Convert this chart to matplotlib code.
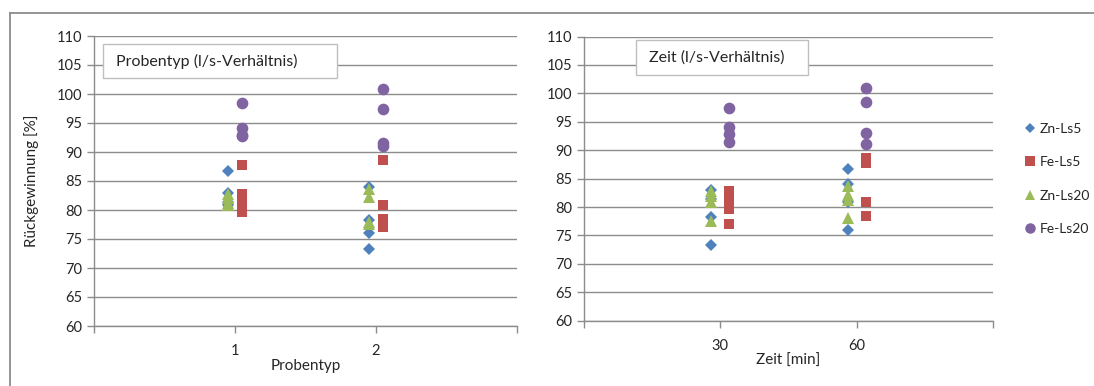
import matplotlib
matplotlib.use("Agg")
import matplotlib.pyplot as plt
from matplotlib.lines import Line2D
from matplotlib.patches import Rectangle

plt.rcParams['font.family'] = ['Lato', 'DejaVu Sans']

# Recovery values (%) per series, grouped by sample type (1, 2)
probentyp_groups = [1, 2]
zn_ls5_probentyp = [[86.7, 83.0, 81.4, 80.8], [84.0, 78.3, 76.0, 73.3]]
fe_ls5_probentyp = [[87.8, 82.8, 81.2, 79.6], [88.6, 80.9, 78.4, 77.0]]
zn_ls20_probentyp = [[82.8, 82.0, 81.2, 80.8], [83.7, 82.2, 78.0, 77.6]]
fe_ls20_probentyp = [[98.5, 94.1, 93.0, 92.8], [100.9, 97.5, 91.5, 91.0]]

# Recovery values (%) per series, grouped by time (30, 60 min)
zeit_groups = [30, 60]
zn_ls5_zeit = [[83.0, 81.4, 78.3, 73.3], [86.7, 84.0, 80.8, 76.0]]
fe_ls5_zeit = [[82.8, 81.2, 79.6, 77.0], [88.6, 87.8, 80.9, 78.4]]
zn_ls20_zeit = [[82.8, 82.0, 80.8, 77.6], [83.7, 82.2, 81.2, 78.0]]
fe_ls20_zeit = [[97.5, 94.1, 92.8, 91.5], [100.9, 98.5, 93.0, 91.0]]

series_names = ["Zn-Ls5", "Fe-Ls5", "Zn-Ls20", "Fe-Ls20"]
colors = ["#4F81BD", "#C0504D", "#9BBB59", "#8064A2"]
markers = ["D", "s", "^", "o"]
msizes = [5.8, 7.8, 8.4, 8.4]
grid_c = "#8C8C8C"
text_c = "#262626"

fig = plt.figure(figsize=(10.94, 3.86), dpi=100)

# outer chart frame
fig.add_artist(Line2D([10 / 1094, 10 / 1094], [0, 1 - 13 / 386],
                      transform=fig.transFigure, color="#8C8C8C", lw=1.3))
fig.add_artist(Line2D([10 / 1094, 1.0], [1 - 13 / 386, 1 - 13 / 386],
                      transform=fig.transFigure, color="#8C8C8C", lw=1.3))


def draw_panel(ax, groups, data, offset, xlim, xticks, xlabel, title, title_box):
    for i, vals in enumerate(data):
        sign = -1 if i % 2 == 0 else 1
        for g, gv in zip(groups, vals):
            ax.plot([g + sign * offset] * len(gv), gv, linestyle="none",
                    marker=markers[i], ms=msizes[i], color=colors[i],
                    markeredgewidth=0, zorder=3 + i)
    ax.set_xlim(*xlim)
    ax.set_ylim(60, 110)
    ax.set_yticks(range(60, 111, 5))
    ax.yaxis.grid(True, color=grid_c, lw=1.0)
    ax.set_axisbelow(True)
    ax.set_xticks(xticks)
    ax.set_xticklabels(["" if t not in groups else str(t) for t in xticks])
    for s in ["top", "right"]:
        ax.spines[s].set_visible(False)
    for s in ["left", "bottom"]:
        ax.spines[s].set_color(grid_c)
        ax.spines[s].set_linewidth(1.0)
    ax.tick_params(axis="both", colors=grid_c, labelcolor=text_c,
                   labelsize=10.5, length=5, width=1.0)
    ax.tick_params(axis="x", pad=8)
    ax.set_xlabel(xlabel, fontsize=11, color=text_c, labelpad=1)
    x0, y0, w, h = title_box
    ax.add_patch(Rectangle((x0, y0), w, h, transform=fig.transFigure,
                           facecolor="white", edgecolor="#BFBFBF", lw=1.0,
                           zorder=10, clip_on=False))
    fig.text(x0 + 13 / 1094, y0 + h / 2, title, fontsize=11.5, color=text_c,
             va="center", ha="left", zorder=11)


ax1 = fig.add_axes([94 / 1094, 1 - 326 / 386, 423 / 1094, 290 / 386])
draw_panel(ax1, probentyp_groups,
           [zn_ls5_probentyp, fe_ls5_probentyp, zn_ls20_probentyp, fe_ls20_probentyp],
           0.05, (0, 3), [0, 1, 2, 3], "Probentyp", "Probentyp (l/s-Verhältnis)",
           (103 / 1094, 1 - 78 / 386, 234 / 1094, 34 / 386))
ax1.set_ylabel("Rückgewinnung [%]", fontsize=11, color=text_c, labelpad=13)

ax2 = fig.add_axes([584 / 1094, 1 - 320.7 / 386, 409 / 1094, 284.2 / 386])
draw_panel(ax2, zeit_groups,
           [zn_ls5_zeit, fe_ls5_zeit, zn_ls20_zeit, fe_ls20_zeit],
           2, (0, 90), [0, 30, 60, 90], "Zeit [min]", "Zeit (l/s-Verhältnis)",
           (636 / 1094, 1 - 75 / 386, 172 / 1094, 35 / 386))

handles = [Line2D([], [], linestyle="none", marker=m, ms=s * 0.9, color=c,
                  markeredgewidth=0)
           for m, s, c in zip(markers, msizes, colors)]
fig.legend(handles, series_names, loc="center left",
           bbox_to_anchor=(1012 / 1094, 1 - 179 / 386), frameon=False,
           fontsize=10, handlelength=0.8, handletextpad=0.3, labelspacing=1.55,
           labelcolor=text_c)

fig.savefig("out.png", dpi=100)
